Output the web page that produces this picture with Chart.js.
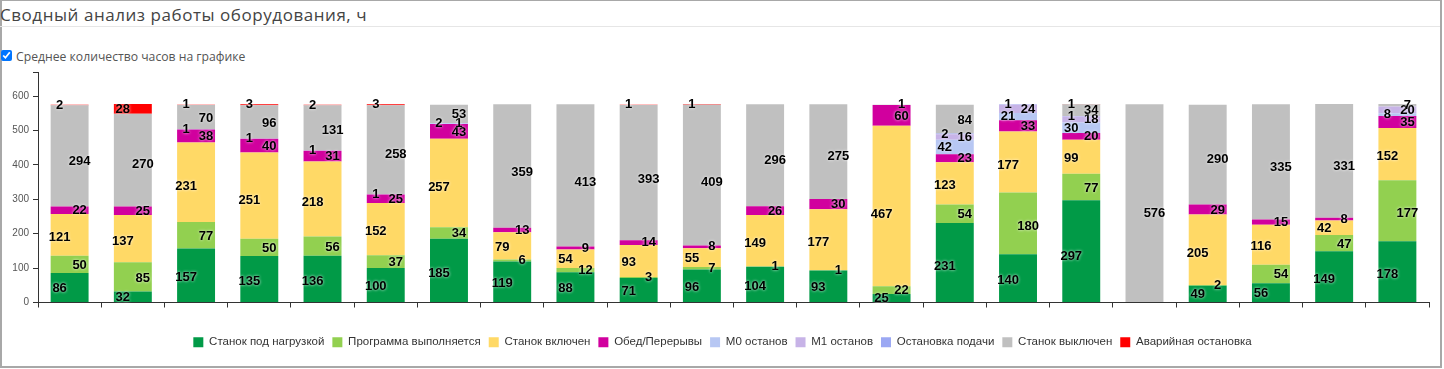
<!DOCTYPE html>
<html>
<head>
<meta charset="utf-8">
<script src="https://cdn.jsdelivr.net/npm/chart.js@4.4.0/dist/chart.umd.min.js"></script>
<style>
  body { margin: 0; background: #fff; font-family: "Open Sans", sans-serif; }
  #frame { position: absolute; left: 0; top: 0; width: 1438px; height: 365px; border: 2px solid #a8a8a8; border-top-width: 1px; }
  #title { position: absolute; left: 0; top: 3px; font-size: 17px; letter-spacing: 0.55px; color: #444; white-space: nowrap; }
  #sep { position: absolute; left: 0; top: 26px; width: 1440px; height: 1px; background: #e6e6e6; }
  #avg { position: absolute; left: 1px; top: 50px; margin: 0; width: 11px; height: 11px; }
  #avgLabel { position: absolute; left: 16px; top: 48px; font-size: 12.2px; color: #555; white-space: nowrap; }
  #box { position: absolute; left: 0; top: 62px; width: 1440px; height: 300px; }
</style>
</head>
<body>
<div id="frame"></div>
<div id="title">Сводный анализ работы оборудования, ч</div>
<div id="sep"></div>
<input type="checkbox" id="avg" checked>
<label id="avgLabel" for="avg">Среднее количество часов на графике</label>
<div id="box"><canvas id="chart"></canvas></div>

<script>
// часы по каждому станку (22 станка), снизу вверх по стеку
const machines = ['1','2','3','4','5','6','7','8','9','10','11','12','13','14','15','16','17','18','19','20','21','22'];

const underLoad   = [86, 32, 157, 135, 136, 100, 185, 119, 88, 71, 96, 104, 93, 25, 231, 140, 297, 0, 49, 56, 149, 178];
const programRun  = [50, 85, 77, 50, 56, 37, 34, 6, 12, 3, 7, 1, 1, 22, 54, 180, 77, 0, 2, 54, 47, 177];
const machineOn   = [121, 137, 231, 251, 218, 152, 257, 79, 54, 93, 55, 149, 177, 467, 123, 177, 99, 0, 205, 116, 42, 152];
const lunchBreaks = [22, 25, 38, 40, 31, 25, 43, 13, 9, 14, 8, 26, 30, 60, 23, 33, 20, 0, 29, 15, 8, 35];
const m0Stop      = [0, 0, 1, 1, 1, 1, 2, 0, 0, 0, 0, 0, 0, 0, 42, 21, 30, 0, 0, 0, 0, 8];
const m1Stop      = [0, 0, 0, 0, 0, 0, 1, 0, 0, 0, 0, 0, 0, 0, 16, 24, 18, 0, 0, 0, 0, 20];
const feedStop    = [0, 0, 0, 0, 0, 0, 0, 0, 0, 0, 0, 0, 0, 0, 2, 1, 1, 0, 0, 0, 0, 0];
const machineOff  = [294, 270, 70, 96, 131, 258, 53, 359, 413, 393, 409, 296, 275, 1, 84, 0, 34, 576, 290, 335, 331, 7];
const emergency   = [2, 28, 1, 3, 2, 3, 0, 0, 0, 1, 1, 0, 0, 0, 0, 0, 1, 0, 0, 0, 0, 0];

const yTicks = [0, 100, 200, 300, 400, 500, 600];
const yTop = 670;

const series = [
  { label: 'Станок под нагрузкой', data: underLoad, color: '#019a47' },
  { label: 'Программа выполняется', data: programRun, color: '#92d050' },
  { label: 'Станок включен', data: machineOn, color: '#ffd966' },
  { label: 'Обед/Перерывы', data: lunchBreaks, color: '#d1009e' },
  { label: 'M0 останов', data: m0Stop, color: '#b7c7f3' },
  { label: 'M1 останов', data: m1Stop, color: '#c7b3e7' },
  { label: 'Остановка подачи', data: feedStop, color: '#9ba8f3' },
  { label: 'Станок выключен', data: machineOff, color: '#c0c0c0' },
  { label: 'Аварийная остановка', data: emergency, color: '#ff0000' }
];

// подписи значений внутри сегментов
const valueLabels = {
  id: 'valueLabels',
  afterDatasetsDraw(chart) {
    const ctx = chart.ctx;
    ctx.save();
    ctx.font = 'bold 13px "Liberation Sans", Arial, sans-serif';
    ctx.textAlign = 'center';
    ctx.textBaseline = 'middle';
    ctx.fillStyle = '#000';
    ctx.shadowColor = 'rgba(255,255,255,0.9)';
    ctx.shadowBlur = 3;
    chart.data.datasets.forEach((ds, i) => {
      const meta = chart.getDatasetMeta(i);
      meta.data.forEach((bar, j) => {
        const v = ds.data[j];
        if (!v) return;
        const top = Math.min(bar.y, bar.base);
        const h = Math.abs(bar.base - bar.y);
        const x = bar.x + (i % 2 === 0 ? -10 : 10);
        const y = top + h * 0.55;
        ctx.fillText(String(v), x, y);
      });
    });
    ctx.restore();
  }
};

// легенда чуть правее центра, как в оригинале
const legendShift = {
  id: 'legendShift',
  afterLayout(chart) {
    chart.legend.left += 8;
    chart.legend.right += 8;
  }
};

const ctx = document.getElementById('chart').getContext('2d');

const myChart = new Chart(ctx, {
  type: 'bar',
  data: {
    labels: machines,
    datasets: series.map(s => ({
      label: s.label,
      data: s.data,
      backgroundColor: s.color,
      borderWidth: 0,
      barPercentage: 0.6,
      categoryPercentage: 1
    }))
  },
  options: {
    responsive: true,
    maintainAspectRatio: false,
    animation: false,
    layout: { padding: { top: 8, right: 11, bottom: 4, left: 0 } },
    plugins: {
      title: { display: false },
      tooltip: { enabled: false },
      legend: {
        position: 'bottom',
        labels: {
          boxWidth: 10,
          boxHeight: 10,
          padding: 8,
          color: '#333',
          font: { family: '"Liberation Sans", Arial, sans-serif', size: 11.5 }
        }
      }
    },
    scales: {
      x: {
        stacked: true,
        grid: { display: true, drawOnChartArea: false, drawTicks: true, tickLength: 5, color: '#333', offset: true },
        border: { display: true, color: '#333' },
        ticks: { callback: () => '' },
        afterFit: s => { s.height = 26; }
      },
      y: {
        stacked: true,
        min: 0,
        max: yTop,
        afterBuildTicks: s => { s.ticks = yTicks.concat([yTop]).map(v => ({ value: v })); },
        grid: { display: true, drawOnChartArea: false, drawTicks: true, tickLength: 5, color: '#333' },
        border: { display: true, color: '#333' },
        ticks: {
          padding: 4,
          color: '#555',
          font: { family: '"Liberation Sans", Arial, sans-serif', size: 10 },
          callback: v => (yTicks.includes(v) ? v : '')
        },
        afterFit: s => { s.width = 38; }
      }
    }
  },
  plugins: [valueLabels, legendShift]
});
</script>
</body>
</html>
